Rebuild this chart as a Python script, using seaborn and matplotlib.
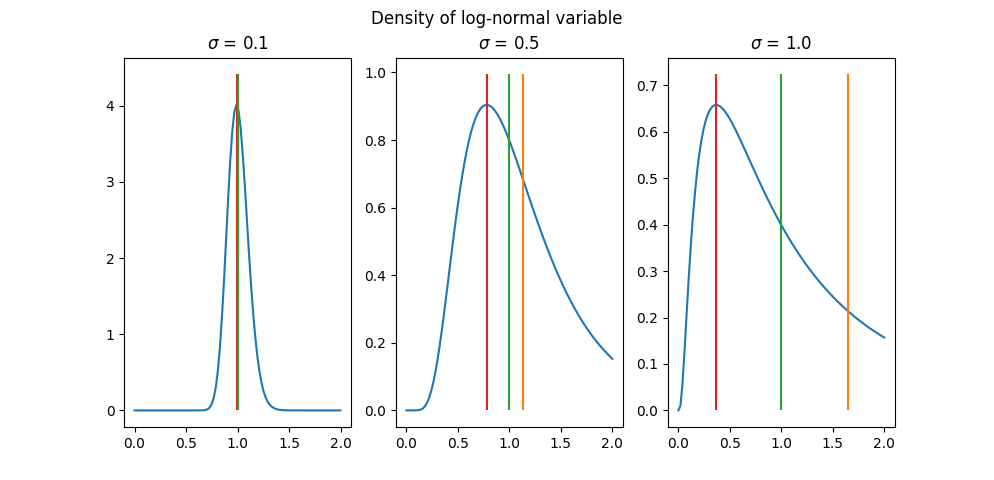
import numpy as np
import pandas as pd
import matplotlib
matplotlib.use("Agg")
import matplotlib.pyplot as plt
import seaborn as sns

# log-normal parameters shown in the three panels (mu = 0)
sigmas = [0.1, 0.5, 1.0]
mu = 0.0
x = np.linspace(0, 2, 100)


def lognorm_pdf(x, s):
    out = np.zeros_like(x)
    pos = x > 0
    out[pos] = np.exp(-(np.log(x[pos]) - mu) ** 2 / (2 * s ** 2)) / (x[pos] * s * np.sqrt(2 * np.pi))
    return out


fig, axes = plt.subplots(1, 3, figsize=(9.94, 4.8), dpi=100)
for ax, s in zip(axes, sigmas):
    df = pd.DataFrame({"x": x, "pdf": lognorm_pdf(x, s)})
    sns.lineplot(data=df, x="x", y="pdf", ax=ax, color="tab:blue")
    top = df["pdf"].max() * 1.1
    mode, median, mean = np.exp(mu - s ** 2), np.exp(mu), np.exp(mu + s ** 2 / 2)
    ax.vlines(mean, 0, top, color="tab:orange")
    ax.vlines(mode, 0, top, color="tab:red")
    ax.vlines(median, 0, top, color="tab:green")
    ax.set_title(rf"$\sigma$ = {s}")
    ax.set_xlabel("")
    ax.set_ylabel("")
    ax.set_xticks([0, 0.5, 1.0, 1.5, 2.0])

fig.suptitle("Density of log-normal variable")
fig.subplots_adjust(left=0.125, right=0.9, bottom=0.11, top=0.88, wspace=0.2)
fig.savefig("out.png")
